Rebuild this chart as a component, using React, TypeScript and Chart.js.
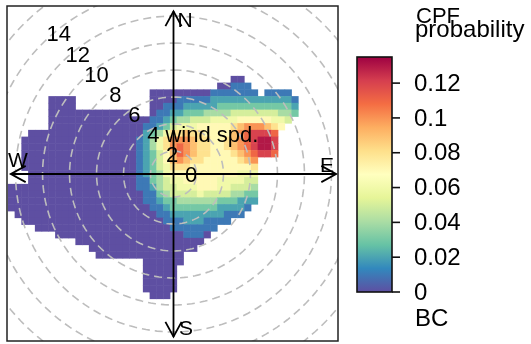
import React, { useEffect, useRef } from "react";
import { Chart, registerables } from "chart.js";

Chart.register(...registerables);

// ---------------- data ----------------
const RING_SPEEDS = [0, 2, 4, 6, 8, 10, 12, 14];
const SPEED_LABEL_RING = 4;
const SPEED_LABEL = "wind spd.";
const COMPASS_LABELS = ["N", "E", "S", "W"];
const KEY_TITLE = ["CPF", "probability"];
const KEY_FOOTER = "BC";
const KEY_TICKS = [0, 0.02, 0.04, 0.06, 0.08, 0.1, 0.12];
const KEY_TICK_LABELS = ["0", "0.02", "0.04", "0.06", "0.08", "0.1", "0.12"];
const KEY_MAX = 0.135;
const SPECTRAL = [
  "#5E4FA2", "#3288BD", "#66C2A5", "#ABDDA4", "#E6F598", "#FFFFBF",
  "#FEE08B", "#FDAE61", "#F46D43", "#D53E4F", "#9E0142",
];

// CPF surface on a 0.5 (ws-unit) grid; one char per cell = value in 0.01 steps (hex digit)
const GRID_X0 = -12;
const GRID_Y0 = 7;
const GRID_STEP = 0.5;
const LEVEL_STEP = 0.01;
const CPF_ROWS: [number, string][][] = [
  [[33, "00"]],
  [[31, "00111"]],
  [[21, "0000000001111111"], [38, "1111"]],
  [[6, "0000"], [21, "0000111112222222222221"]],
  [[6, "0000"], [21, "0011122222333333333332"]],
  [[6, "000000000000"], [21, "0112233344445555555443"]],
  [[6, "0000000000000"], [19, "00112344555666677777665"]],
  [[6, "0000000000000"], [19, "0112356667777789aaa987"]],
  [[3, "0000000000000000"], [19, "023468898877779abcccb"]],
  [[2, "00000000000000000"], [19, "12468aaa9887789abcddc"]],
  [[2, "00000000000000000"], [19, "12468aba9887789abcddc"]],
  [[2, "00000000000000000"], [19, "123579ba98877789abccb"]],
  [[2, "00000000000000000"], [19, "123579a9887777789a"]],
  [[2, "00000000000000000"], [19, "123568887777777778"]],
  [[3, "0000000000000000"], [19, "123467777777777666"]],
  [[3, "0000000000000000"], [19, "113456677777666655"]],
  [[0, "0000000000000000000"], [19, "112455666777665554"]],
  [[0, "0000000000000000000"], [19, "011345555655554433"]],
  [[0, "0000000000000000000"], [19, "011233444444333222"]],
  [[0, "0000000000000000000"], [19, "00112333333322221"]],
  [[1, "000000000000000000"], [19, "0001122222222111"]],
  [[2, "00000000000000000"], [19, "00001112221111"]],
  [[4, "000000000000000"], [19, "000001111111"]],
  [[7, "000000000000"], [19, "00000001110"]],
  [[10, "0000000000000000000"]],
  [[12, "0000000000000000"]],
  [[13, "0000000000000"]],
  [[20, "000000"]],
  [[20, "00000"]],
  [[20, "00000"]],
  [[20, "00000"]],
  [[20, "00000"]],
  [[21, "000"]],
];

// ---------------- geometry / style ----------------
const FONT = "'Liberation Sans', Arial, Helvetica, sans-serif";
const RING_OFFSET = 1.7;
const AXIS_REACH = 12.05;
const ARROW_LEN = 1.1;
const ARROW_HALF = 0.6;
const X_MIN = -12.333, X_MAX = 12.185, Y_MIN = -12.37, Y_MAX = 12.444;

function hexToRgb(h: string) {
  const n = parseInt(h.slice(1), 16);
  return [(n >> 16) & 255, (n >> 8) & 255, n & 255];
}
const STOP_RGB = SPECTRAL.map(hexToRgb);
function cpfColor(v: number) {
  const t = Math.max(0, Math.min(1, v / KEY_MAX)) * (STOP_RGB.length - 1);
  const i = Math.min(Math.floor(t), STOP_RGB.length - 2);
  const f = t - i;
  const a = STOP_RGB[i], b = STOP_RGB[i + 1];
  const c = [0, 1, 2].map((k) => Math.round(a[k] + (b[k] - a[k]) * f));
  return `rgb(${c[0]},${c[1]},${c[2]})`;
}

function buildCells() {
  const pts: { x: number; y: number; v: number }[] = [];
  CPF_ROWS.forEach((segs, j) => {
    segs.forEach(([start, s]) => {
      for (let k = 0; k < s.length; k++) {
        const ch = s[k];
        if (ch === ".") continue;
        const i = start + k;
        pts.push({ x: GRID_X0 + GRID_STEP * i, y: GRID_Y0 - GRID_STEP * j, v: parseInt(ch, 16) * LEVEL_STEP });
      }
    });
  });
  return pts;
}

function ringPoints(ws: number) {
  const r = ws + RING_OFFSET;
  const pts: { x: number; y: number }[] = [];
  for (let d = 0; d <= 360; d += 2) {
    const th = (d * Math.PI) / 180;
    pts.push({ x: r * Math.sin(th), y: r * Math.cos(th) });
  }
  return pts;
}

const overlayPlugin = {
  id: "overlay",
  afterDatasetsDraw(chart: any) {
    const { ctx, chartArea: a } = chart;
    const xs = chart.scales.x, ys = chart.scales.y;
    const px = (u: number) => xs.getPixelForValue(u);
    const py = (v: number) => ys.getPixelForValue(v);
    ctx.save();
    // frame
    ctx.strokeStyle = "#222";
    ctx.lineWidth = 1.5;
    ctx.strokeRect(a.left, a.top, a.right - a.left, a.bottom - a.top);

    // ring labels
    ctx.fillStyle = "#000";
    ctx.font = `22px ${FONT}`;
    ctx.textBaseline = "middle";
    ctx.textAlign = "left";
    RING_SPEEDS.forEach((ws) => {
      const cx = px(1.3 - 0.7 * ws);
      const cy = py(-0.11 + 0.741 * ws);
      const t = String(ws);
      const w = ctx.measureText(t).width;
      ctx.fillText(ws === SPEED_LABEL_RING ? `${t} ${SPEED_LABEL}` : t, cx - w / 2, cy);
    });

    // compass labels
    ctx.font = `21px ${FONT}`;
    ctx.textAlign = "center";
    const cpos: Record<string, [number, number]> = {
      N: [0.85, 11.33], E: [11.37, 0.59], S: [0.93, -11.48], W: [-11.52, 0.96],
    };
    COMPASS_LABELS.forEach((l) => {
      const p = cpos[l];
      ctx.fillText(l, px(p[0]), py(p[1]));
    });

    // colour key
    const kx0 = 357, kx1 = 392, ky0 = 57, ky1 = 292;
    const g = ctx.createLinearGradient(0, ky1, 0, ky0);
    SPECTRAL.forEach((c, i) => g.addColorStop(i / (SPECTRAL.length - 1), c));
    ctx.fillStyle = g;
    ctx.fillRect(kx0, ky0, kx1 - kx0, ky1 - ky0);
    ctx.strokeStyle = "#111";
    ctx.lineWidth = 1.6;
    ctx.strokeRect(kx0, ky0, kx1 - kx0, ky1 - ky0);
    ctx.fillStyle = "#000";
    ctx.font = `24px ${FONT}`;
    ctx.textAlign = "left";
    ctx.textBaseline = "middle";
    KEY_TICKS.forEach((v, i) => {
      const yy = ky1 - (v / KEY_MAX) * (ky1 - ky0);
      ctx.beginPath();
      ctx.moveTo(kx1, yy);
      ctx.lineTo(kx1 + 8, yy);
      ctx.stroke();
      ctx.fillText(KEY_TICK_LABELS[i], 414, yy + 1);
    });
    ctx.textBaseline = "alphabetic";
    ctx.fillText(KEY_TITLE[1], 415, 37);
    ctx.fillText(KEY_FOOTER, 415, 326);
    ctx.font = `22px ${FONT}`;
    ctx.fillText(KEY_TITLE[0], 416, 23);
    ctx.restore();
  },
};

export default function App() {
  const ref = useRef<HTMLCanvasElement | null>(null);
  useEffect(() => {
    if (!ref.current) return;
    const cells = buildCells();
    const lineBase = { showLine: true, pointRadius: 0, fill: false, tension: 0 };
    const L = AXIS_REACH;
    const axisSets = [
      [{ x: -L, y: 0 }, { x: L, y: 0 }],
      [{ x: 0, y: -L }, { x: 0, y: L }],
      [{ x: L - ARROW_LEN, y: ARROW_HALF }, { x: L, y: 0 }, { x: L - ARROW_LEN, y: -ARROW_HALF }],
      [{ x: -L + ARROW_LEN, y: ARROW_HALF }, { x: -L, y: 0 }, { x: -L + ARROW_LEN, y: -ARROW_HALF }],
      [{ x: -ARROW_HALF, y: L - ARROW_LEN }, { x: 0, y: L }, { x: ARROW_HALF, y: L - ARROW_LEN }],
      [{ x: -ARROW_HALF, y: -L + ARROW_LEN }, { x: 0, y: -L }, { x: ARROW_HALF, y: -L + ARROW_LEN }],
    ].map((d) => ({ ...lineBase, data: d, borderColor: "#000", borderWidth: 1.8, order: 1 }));
    const ringSets = RING_SPEEDS.map((ws) => ({
      ...lineBase,
      data: ringPoints(ws),
      borderColor: "#BDBDBD",
      borderWidth: 1.6,
      borderDash: [8, 5],
      order: 2,
    }));
    const heat = {
      data: cells,
      showLine: false,
      pointStyle: "rect",
      pointBorderWidth: 0,
      borderWidth: 0,
      pointBackgroundColor: cells.map((c) => cpfColor(c.v)),
      backgroundColor: cells.map((c) => cpfColor(c.v)),
      pointRadius: (ctx: any) => {
        const xs = ctx.chart.scales.x;
        const cell = Math.abs(xs.getPixelForValue(GRID_STEP) - xs.getPixelForValue(0));
        return (cell + 0.5) / Math.SQRT2;
      },
      order: 3,
    };
    const chart = new Chart(ref.current, {
      type: "scatter",
      data: { datasets: [...axisSets, ...ringSets, heat] as any },
      options: {
        animation: false,
        responsive: false,
        maintainAspectRatio: false,
        devicePixelRatio: 1,
        events: [],
        layout: { padding: { left: 7, top: 6, right: 193, bottom: 3 } },
        scales: {
          x: { type: "linear", min: X_MIN, max: X_MAX, display: false },
          y: { type: "linear", min: Y_MIN, max: Y_MAX, display: false },
        },
        plugins: { legend: { display: false }, tooltip: { enabled: false } },
      },
      plugins: [overlayPlugin],
    } as any);
    return () => chart.destroy();
  }, []);
  return (
    <div style={{ position: "fixed", left: 0, top: 0, width: 531, height: 344, background: "#fff" }}>
      <canvas ref={ref} width={531} height={344} style={{ display: "block" }} />
    </div>
  );
}
